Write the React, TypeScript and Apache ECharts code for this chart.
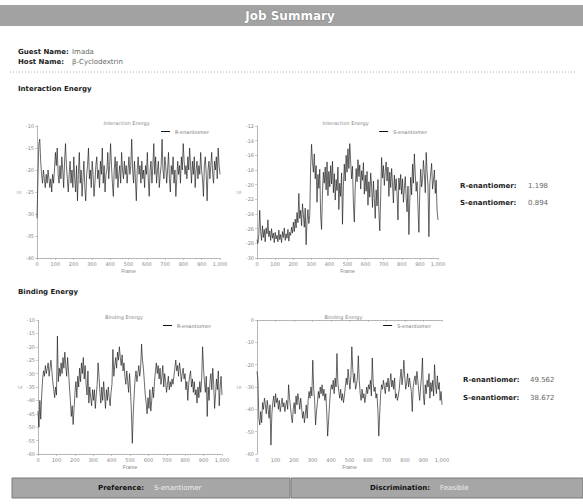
import React, { useEffect, useRef } from "react";
import * as echarts from "echarts";

// ---------- data ----------
const frameLabels = [0, 100, 200, 300, 400, 500, 600, 700, 800, 900, 1000];
const FRAME_MAX = 1000;

// Interaction energy, R-enantiomer
const ieR = [
  -31, -22, -14, -13, -18, -21, -23, -20, -22, -24, -21, -23, -20, -22, -24, -22, -25, -21, -23, -20,
  -16, -19, -15, -21, -23, -19, -22, -17, -20, -24, -18, -14, -19, -22, -25, -21, -18, -23, -20, -24,
  -17, -22, -25, -19, -27, -21, -16, -23, -20, -26, -22, -18, -24, -27, -21, -19, -15, -22, -20, -24,
  -18, -21, -26, -23, -19, -17, -22, -20, -24, -18, -21, -15, -23, -19, -25, -21, -20, -16, -22, -19,
  -14, -19, -23, -26, -20, -17, -22, -18, -24, -21, -19, -23, -16, -20, -22, -18, -21, -19, -23, -20,
  -17, -21, -19, -13, -20, -23, -18, -22, -27, -20, -17, -21, -19, -23, -18, -22, -20, -24, -19, -21,
  -16, -22, -26, -20, -18, -23, -19, -14, -21, -17, -23, -20, -18, -24, -21, -19, -13, -20, -22, -17,
  -19, -23, -20, -16, -22, -25, -19, -21, -17, -23, -20, -26, -22, -18, -21, -19, -23, -17, -20, -14,
  -18, -21, -19, -22, -17, -20, -15, -19, -23, -18, -21, -17, -24, -20, -18, -22, -19, -21, -16, -20,
  -22, -26, -19, -17, -21, -27, -20, -18, -22, -19, -16, -21, -23, -18, -20, -17, -22, -15, -19, -21,
];

// Interaction energy, S-enantiomer
const ieS = [
  -27.5, -28, -26.8, -23.5, -26.4, -27.6, -25.6, -27.2, -26.1, -27.8, -25.9, -26.7, -24.8, -27.1, -26.3, -27.6, -26.0, -27.3, -26.6, -27.9,
  -26.5, -27.4, -26.9, -27.8, -26.2, -27.5, -26.8, -27.9, -26.4, -27.2, -25.9, -27.6, -26.7, -27.3, -26.1, -27.7, -26.5, -26.9, -25.8, -26.6,
  -25.1, -26.4, -24.7, -25.9, -23.8, -25.2, -21.2, -24.6, -23.5, -25.6, -22.6, -24.1, -25.8, -23.2, -28.2, -24.9, -23.4, -25.3, -24.2, -17.6,
  -14.5, -16.9, -18.3, -15.8, -19.2, -17.4, -22.4, -18.6, -20.5, -17.9, -24.2, -26.1, -21.0, -18.3, -19.8, -17.6, -20.7, -16.9, -21.5, -18.2,
  -20.3, -17.4, -19.9, -16.8, -21.1, -18.5, -22.1, -19.3, -20.8, -17.6, -23.4, -19.8, -21.6, -18.4, -25.4, -20.1, -17.2, -19.5, -16.0, -18.3,
  -15.1, -17.8, -14.4, -16.9, -19.2, -17.5, -22.6, -25.1, -20.4, -17.8, -19.6, -16.6, -18.9, -17.3, -20.6, -18.1, -19.4, -17.0, -21.3, -18.7,
  -20.9, -18.2, -22.8, -19.6, -21.7, -18.4, -20.2, -23.1, -19.5, -21.9, -24.6, -20.7, -22.9, -19.3, -23.8, -26.3, -21.5, -16.3, -19.1, -17.4,
  -20.1, -18.2, -16.9, -19.5, -17.6, -21.6, -18.3, -20.4, -17.8, -19.9, -22.5, -18.7, -20.8, -19.2, -21.4, -24.8, -19.1, -20.7, -18.6, -21.3,
  -19.2, -22.4, -20.5, -18.9, -21.8, -23.7, -20.2, -26.8, -22.1, -19.0, -21.4, -17.2, -19.8, -15.8, -18.6, -20.9, -19.6, -23.2, -26.5, -20.8,
  -17.9, -20.3, -19.3, -16.7, -18.5, -21.1, -15.6, -18.2, -20.2, -27.1, -19.8, -18.4, -17.1, -20.6, -19.5, -18.0, -21.2, -19.4, -23.6, -24.8,
];

// Binding energy, R-enantiomer
const beR = [
  -44, -50, -40, -47, -38, -32, -29, -31, -27, -30, -28, -26, -31, -28, -25, -29, -33, -36, -39, -35,
  -38, -16, -33, -28, -31, -26, -30, -24, -28, -22, -27, -31, -24, -29, -35, -40, -46, -42, -49, -43,
  -37, -33, -39, -31, -35, -28, -33, -26, -30, -24, -32, -27, -34, -38, -29, -41, -35, -39, -42, -36,
  -40, -36, -43, -38, -34, -26, -31, -37, -41, -35, -40, -33, -38, -43, -36, -40, -35, -39, -42, -37,
  -34, -21, -31, -27, -24, -28, -22, -25, -20, -24, -27, -23, -29, -26, -31, -34, -29, -33, -37, -30,
  -36, -44, -56, -45, -38, -32, -29, -33, -30, -27, -31, -28, -19, -25, -28, -33, -38, -41, -45, -39,
  -43, -36, -44, -40, -35, -39, -33, -29, -26, -30, -27, -32, -28, -34, -31, -27, -35, -30, -33, -37,
  -34, -31, -36, -33, -35, -32, -34, -31, -28, -25, -29, -27, -31, -26, -29, -33, -30, -28, -32, -30,
  -36, -33, -40, -34, -31, -29, -35, -32, -37, -33, -38, -36, -41, -35, -39, -33, -37, -32, -20, -28,
  -33, -37, -31, -46, -35, -40, -33, -30, -36, -28, -34, -43, -38, -32, -36, -29, -42, -35, -31, -38,
];

// Binding energy, S-enantiomer
const beS = [
  -23, -27, -44, -47, -41, -46, -37, -40, -35, -38, -42, -36, -40, -44, -38, -56, -42, -37, -34, -39,
  -33, -37, -35, -40, -36, -41, -38, -35, -39, -37, -41, -38, -36, -40, -29, -35, -39, -43, -46, -40,
  -37, -42, -34, -38, -33, -36, -40, -35, -39, -44, -41, -46, -42, -38, -44, -36, -32, -35, -30, -34,
  -18, -31, -36, -47, -41, -37, -32, -35, -30, -33, -29, -34, -31, -36, -33, -41, -52, -45, -38, -32,
  -29, -31, -27, -33, -26, -30, -15, -28, -32, -35, -31, -36, -33, -37, -34, -30, -26, -29, -22, -27,
  -31, -25, -12, -22, -28, -24, -31, -29, -26, -16, -27, -33, -36, -31, -35, -33, -37, -34, -30, -33,
  -29, -31, -27, -34, -17, -28, -32, -30, -35, -33, -40, -52, -42, -33, -29, -31, -27, -30, -33, -28,
  -30, -26, -32, -28, -24, -30, -27, -31, -26, -35, -33, -36, -34, -31, -26, -22, -29, -25, -18, -26,
  -31, -28, -24, -30, -26, -29, -32, -41, -30, -27, -25, -29, -23, -27, -32, -36, -30, -25, -17, -34,
  -38, -29, -33, -27, -30, -24, -35, -28, -32, -27, -34, -20, -29, -33, -25, -31, -28, -36, -32, -38,
];

const enantiomerNames = ["R-enantiomer", "S-enantiomer"];
const ieResults = ["1.198", "0.894"];
const beResults = ["49.562", "38.672"];
const guestName = "Imada";
const hostName = "β-Cyclodextrin";
const preference = "S-enantiomer";
const discrimination = "Feasible";

// ---------- helpers ----------
const toPairs = (vals: number[]) =>
  vals.map((v, i) => [(i * FRAME_MAX) / (vals.length - 1), v]);

const FONT = "DejaVu Sans";
const grids = [
  { left: 37, top: 126, width: 183, height: 132 },
  { left: 257, top: 126, width: 181, height: 132 },
  { left: 38, top: 320, width: 184, height: 134 },
  { left: 257, top: 320, width: 185, height: 134 },
];
const yRanges = [
  { min: -40, max: -10, interval: 5 },
  { min: -30, max: -12, interval: 2 },
  { min: -60, max: -10, interval: 5 },
  { min: -60, max: 0, interval: 10 },
];
const seriesData = [ieR, ieS, beR, beS];
const chartTitles = ["Interaction Energy", "Interaction Energy", "Binding Energy", "Binding Energy"];

function txt(x: number, y: number, text: string, opt: any = {}) {
  return {
    type: "text",
    x,
    y,
    silent: true,
    style: {
      text,
      fontSize: opt.size ?? 7,
      fontWeight: opt.bold ? "bold" : "normal",
      fontFamily: FONT,
      fill: opt.color ?? "#222",
      align: opt.align ?? "left",
      verticalAlign: "middle",
      stroke: opt.stroke,
      lineWidth: opt.stroke ? 0.6 : 0,
    },
  };
}

export default function App() {
  const ref = useRef<HTMLDivElement>(null);

  useEffect(() => {
    if (!ref.current) return;
    const chart = echarts.init(ref.current, null, { renderer: "svg" });

    const axisLine = { show: true, lineStyle: { color: "#9a9a9a", type: "dotted", width: 0.8 } };
    const axisTick = { show: true, length: 2, lineStyle: { color: "#aaa", width: 0.6 } };
    const axisLabel = { fontSize: 5, color: "#888", margin: 3, fontFamily: FONT };

    const option: any = {
      animation: false,
      backgroundColor: "#ffffff",
      title: grids.map((g, i) => ({
        text: chartTitles[i],
        left: g.left + g.width / 2 - 30,
        top: g.top - 11,
        textStyle: { fontSize: 5, color: "#888", fontWeight: "normal", fontFamily: FONT },
      })),
      legend: grids.map((g, i) => ({
        data: [enantiomerNames[i % 2]],
        right: 583 - (g.left + g.width) + 6,
        top: g.top - 2,
        itemWidth: 9,
        itemHeight: 1,
        icon: "rect",
        itemGap: 2,
        textStyle: { fontSize: 5, color: "#777", fontFamily: FONT },
        selectedMode: false,
      })),
      grid: grids.map((g) => ({ ...g, containLabel: false })),
      xAxis: grids.map((_, i) => ({
        type: "value",
        gridIndex: i,
        min: frameLabels[0],
        max: frameLabels[frameLabels.length - 1],
        interval: frameLabels[1] - frameLabels[0],
        name: "Frame",
        nameLocation: "middle",
        nameGap: 10,
        nameTextStyle: { fontSize: 5, color: "#888" },
        axisLine,
        axisTick,
        axisLabel,
        splitLine: { show: false },
      })),
      yAxis: grids.map((_, i) => ({
        type: "value",
        gridIndex: i,
        ...yRanges[i],
        name: "E",
        nameLocation: "middle",
        nameGap: 13,
        nameTextStyle: { fontSize: 5, color: "#888" },
        axisLine,
        axisTick,
        axisLabel,
        splitLine: { show: false },
      })),
      series: seriesData.map((d, i) => ({
        type: "line",
        name: enantiomerNames[i % 2],
        xAxisIndex: i,
        yAxisIndex: i,
        data: toPairs(d),
        showSymbol: false,
        symbol: "none",
        color: "#111111",
        lineStyle: { color: "#111111", width: 0.7, opacity: 0.9 },
      })),
      graphic: [
        // header bar
        { type: "rect", silent: true, shape: { x: 0, y: 5, width: 583, height: 21 }, style: { fill: "#a2a2a2" } },
        txt(290, 15.5, "Job Summary", { size: 12, bold: true, color: "#ffffff", align: "center", stroke: "#6a6a6a" }),
        // guest / host
        txt(18, 52, "Guest Name:", { bold: true }),
        txt(72, 52, guestName, { color: "#666" }),
        txt(18, 62, "Host Name:", { bold: true }),
        txt(72, 62, hostName, { color: "#666" }),
        { type: "line", silent: true, shape: { x1: 10, y1: 72, x2: 575, y2: 72 }, style: { stroke: "#999", lineWidth: 0.8, lineDash: [1, 2] } },
        txt(18, 89, "Interaction Energy", { bold: true }),
        txt(18, 292, "Binding Energy", { bold: true }),
        // results
        txt(460, 186, enantiomerNames[0] + ":", { bold: true }),
        txt(528, 186, ieResults[0], { color: "#666" }),
        txt(460, 203, enantiomerNames[1] + ":", { bold: true }),
        txt(528, 203, ieResults[1], { color: "#666" }),
        txt(463, 380, enantiomerNames[0] + ":", { bold: true }),
        txt(530, 380, beResults[0], { color: "#666" }),
        txt(463, 398, enantiomerNames[1] + ":", { bold: true }),
        txt(530, 398, beResults[1], { color: "#666" }),
        // footer
        { type: "rect", silent: true, shape: { x: 12, y: 478, width: 278, height: 20 }, style: { fill: "#a6a6a6", stroke: "#7a7a7a", lineWidth: 1 } },
        { type: "rect", silent: true, shape: { x: 291, y: 478, width: 292, height: 20 }, style: { fill: "#a6a6a6", stroke: "#7a7a7a", lineWidth: 1 } },
        txt(98, 488, "Preference:", { bold: true, color: "#111" }),
        txt(154, 488, preference, { color: "#eeeeee" }),
        txt(370, 488, "Discrimination:", { bold: true, color: "#111" }),
        txt(440, 488, discrimination, { color: "#eeeeee" }),
      ],
    };

    chart.setOption(option);
    return () => chart.dispose();
  }, []);

  return (
    <div
      ref={ref}
      style={{ position: "fixed", left: 0, top: 0, width: 583, height: 504, background: "#fff" }}
    />
  );
}
